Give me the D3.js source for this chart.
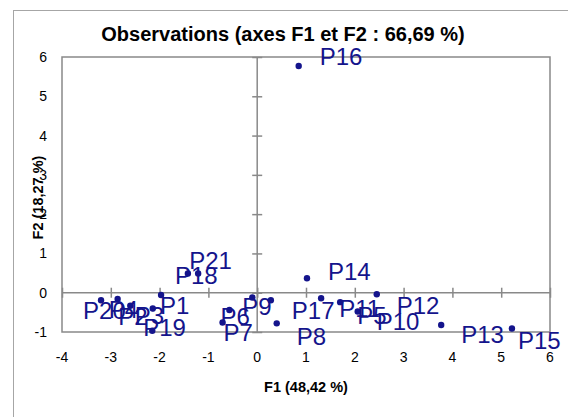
<!DOCTYPE html>
<html><head><meta charset="utf-8">
<script src="https://cdn.jsdelivr.net/npm/d3@7"></script>
<style>
html,body{margin:0;padding:0;background:#fff;overflow:hidden}
text{font-family:"Liberation Sans",Arial,sans-serif}
</style></head>
<body><svg id="c" width="568" height="417"></svg>
<script>
const names = ["P1","P2","P3","P4","P5","P6","P7","P8","P9","P10","P11","P12","P13","P14","P15","P16","P17","P18","P19","P20","P21"];
const f1 = [-1.97,-2.60,-2.14,-2.86,1.70,-0.57,-0.71,0.40,-0.10,2.06,1.31,2.45,3.77,1.02,5.22,0.85,0.28,-1.42,-2.15,-3.20,-1.21];
const f2 = [-0.06,-0.33,-0.40,-0.16,-0.24,-0.44,-0.76,-0.78,-0.12,-0.48,-0.14,-0.04,-0.82,0.37,-0.91,5.77,-0.19,0.49,-0.97,-0.19,0.49];
const xTicks = [-4,-3,-2,-1,0,1,2,3,4,5,6];
const yTicks = [-1,0,1,2,3,4,5,6];
const title = "Observations (axes F1 et F2 : 66,69 %)";
const xTitle = "F1 (48,42 %)";
const yTitle = "F2 (18,27 %)";
// label placement offsets (pixels) relative to each point
const labelDx = [-1,-12,-18,-9,17,-9,1,20,-10,19,18,20,20,21,6,21,21,-13,-9,-18,-9];
const labelDy = [11,11,7,11,13,7,10,13,9,10,10,11,10,-7,12,-9,10,2,-3,10,-13];

const svg = d3.select("#c");
const x = d3.scaleLinear().domain([-4,6]).range([62,550]);
const y = d3.scaleLinear().domain([-1,6]).range([332,57]);
const grey = "#898989";
const blue = "#14148c";

// chart area border
svg.append("rect").attr("x",13.5).attr("y",10.5).attr("width",620).attr("height",460)
  .attr("fill","#fff").attr("stroke","#a6a6a6").attr("stroke-width",1);

// plot area border
svg.append("rect").attr("x",x(-4)).attr("y",y(6)).attr("width",x(6)-x(-4)).attr("height",y(-1)-y(6))
  .attr("fill","none").attr("stroke",grey).attr("stroke-width",1.5);

// axes through origin with cross ticks
const xAxis = d3.axisBottom(x).tickValues(xTicks).tickSizeInner(5).tickSizeOuter(0).tickFormat("");
const xa = svg.append("g").attr("transform",`translate(0,${y(0)})`).call(xAxis);
xa.selectAll(".tick line").attr("y1",-5).attr("y2",5);
const yAxis = d3.axisLeft(y).tickValues(yTicks).tickSizeInner(5).tickSizeOuter(0).tickFormat("");
const ya = svg.append("g").attr("transform",`translate(${x(0)},0)`).call(yAxis);
ya.selectAll(".tick line").attr("x1",-5).attr("x2",5);
svg.selectAll(".domain, .tick line").attr("stroke",grey).attr("stroke-width",1.5);
xa.select(".domain").attr("d",`M${x(-4)},0H${x(6)}`);
ya.select(".domain").attr("d",`M0,${y(-1)}V${y(6)}`);

// tick labels (low position)
svg.append("g").selectAll("text").data(xTicks).join("text")
  .attr("x",d=>x(d)).attr("y",362).attr("text-anchor","middle")
  .attr("font-size",14).attr("fill","#000").text(d=>d);
svg.append("g").selectAll("text").data(yTicks).join("text")
  .attr("x",47).attr("y",d=>y(d)+5).attr("text-anchor","end")
  .attr("font-size",14).attr("fill","#000").text(d=>d);

// titles
svg.append("text").attr("x",283).attr("y",41).attr("text-anchor","middle")
  .attr("font-size",20).attr("font-weight","bold").text(title);
svg.append("text").attr("x",306).attr("y",392).attr("text-anchor","middle")
  .attr("font-size",14.5).attr("font-weight","bold").text(xTitle);
svg.append("text").attr("transform",`translate(43,${(y(6)+y(-1))/2+3}) rotate(-90)`).attr("text-anchor","middle")
  .attr("font-size",14.5).attr("font-weight","bold").text(yTitle);

// points
const idx = d3.range(names.length);
svg.append("g").selectAll("circle").data(idx).join("circle")
  .attr("cx",i=>x(f1[i])).attr("cy",i=>y(f2[i])).attr("r",3.2).attr("fill",blue);

// labels
svg.append("g").selectAll("text").data(idx).join("text")
  .attr("x",i=>x(f1[i])+labelDx[i]).attr("y",i=>y(f2[i])+labelDy[i]).attr("dy","0.35em")
  .attr("font-size",24).attr("fill",blue).text(i=>names[i]);
</script></body></html>
